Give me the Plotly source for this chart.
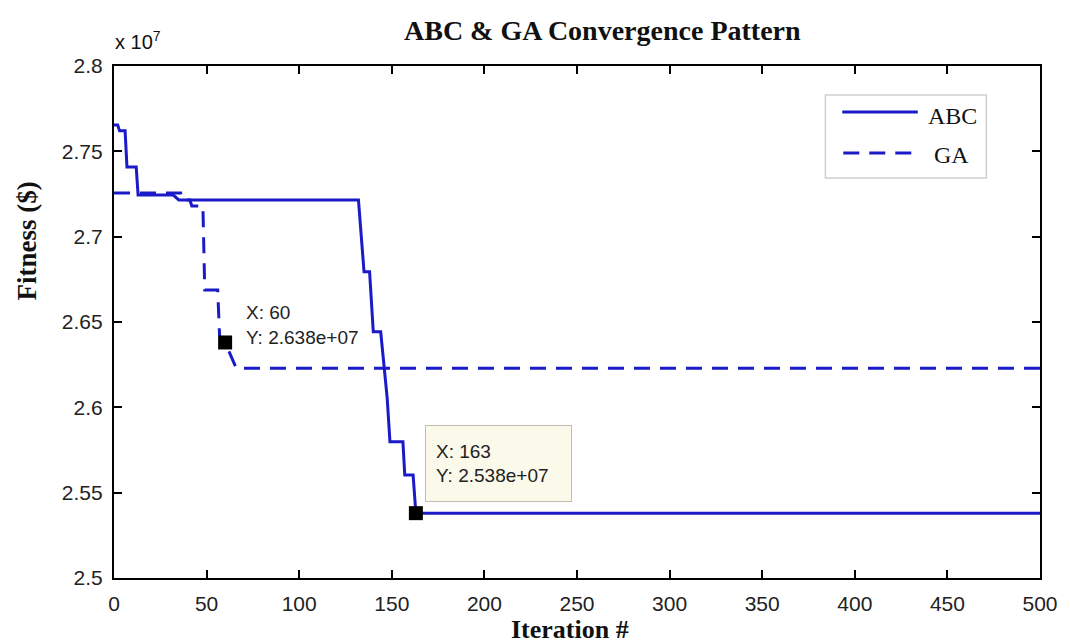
import plotly.graph_objects as go

# Best fitness per iteration (in $), step-wise convergence traces
abc_iter = [0, 2, 3, 6, 7, 12, 13, 32, 35, 132, 135, 138, 140, 144, 147.5, 149,
            156, 157, 161.5, 162.5, 163, 500]
abc_fit = [2.7655e7, 2.7655e7, 2.7620e7, 2.7620e7, 2.7408e7, 2.7408e7, 2.7244e7,
           2.7244e7, 2.7215e7, 2.7215e7, 2.6795e7, 2.6795e7, 2.6443e7, 2.6443e7,
           2.6055e7, 2.5799e7, 2.5799e7, 2.5604e7, 2.5604e7, 2.5468e7, 2.538e7,
           2.538e7]

ga_iter = [0, 36, 37, 41, 42, 48, 49, 56, 57, 60, 66, 500]
ga_fit = [2.7256e7, 2.7256e7, 2.7215e7, 2.7215e7, 2.7180e7, 2.7180e7, 2.6687e7,
          2.6687e7, 2.6420e7, 2.638e7, 2.6229e7, 2.6229e7]

# Data-tip points
tip_x = [60, 163]
tip_y = [2.638e7, 2.538e7]

x_ticks = list(range(0, 501, 50))
y_tickvals = [2.5e7, 2.55e7, 2.6e7, 2.65e7, 2.7e7, 2.75e7, 2.8e7]
y_ticktext = ["2.5", "2.55", "2.6", "2.65", "2.7", "2.75", "2.8"]

BLUE = "#1a1ac8"
DASH = "16px,10px"
SANS = "Liberation Sans, Arial, sans-serif"
SERIF = "Liberation Serif, Times New Roman, serif"

W, H = 1070, 644
L, R, T, B = 114, 24, 66, 66
PW, PH = W - L - R, H - T - B


def px(xp):
    return (xp - L) / PW


def py(yp):
    return (H - B - yp) / PH


fig = go.Figure()
fig.add_trace(go.Scatter(x=abc_iter, y=abc_fit, mode="lines", name="ABC",
                         line=dict(color=BLUE, width=3), showlegend=False))
fig.add_trace(go.Scatter(x=ga_iter, y=ga_fit, mode="lines", name="GA",
                         line=dict(color=BLUE, width=3, dash=DASH), showlegend=False))
fig.add_trace(go.Scatter(x=tip_x, y=tip_y, mode="markers", showlegend=False,
                         marker=dict(symbol="square", size=14, color="black")))

axis_common = dict(showline=True, linecolor="black", linewidth=2.2, mirror="ticks",
                   ticks="inside", ticklen=8, tickwidth=1.5, tickcolor="black",
                   showgrid=False, zeroline=False,
                   tickfont=dict(family=SANS, size=21, color="#222"))

fig.update_xaxes(range=[0, 500], tickvals=x_ticks, ticklabelstandoff=6, **axis_common)
fig.update_yaxes(range=[2.5e7, 2.8e7], tickvals=y_tickvals, ticktext=y_ticktext,
                 ticklabelstandoff=5, **axis_common)


def paper_text(text, xp, yp, size, family, xanchor="center", angle=0):
    return dict(text=text, x=px(xp), y=py(yp), xref="paper", yref="paper",
                xanchor=xanchor, yanchor="middle", showarrow=False, textangle=angle,
                font=dict(family=family, size=size, color="#111"))


annotations = [
    paper_text("<b>ABC &amp; GA Convergence Pattern</b>", 606, 30, 28, SERIF),
    paper_text("<b>Fitness ($)</b>", 26, 241, 27, SERIF, angle=-90),
    paper_text("<b>Iteration #</b>", 573, 629, 26, SERIF),
    paper_text("x 10<sup>7</sup>", 113, 40, 20, SANS, xanchor="left"),
    # legend labels
    paper_text("ABC", 931, 116, 24, SERIF, xanchor="left"),
    paper_text("GA", 937, 155, 24, SERIF, xanchor="left"),
    # data tips
    dict(text="X: %d<br>Y: %.3e" % (tip_x[0], tip_y[0]), x=tip_x[0], y=tip_y[0],
         xref="x", yref="y", xanchor="left", yanchor="middle", align="left",
         xshift=19, yshift=17, showarrow=False,
         font=dict(family=SANS, size=19, color="#222")),
    dict(text="X: %d<br>Y: %.3e" % (tip_x[1], tip_y[1]), x=tip_x[1], y=tip_y[1],
         xref="x", yref="y", xanchor="left", yanchor="bottom", align="left",
         xshift=9, yshift=11, showarrow=False, width=125, height=55, borderpad=10,
         bgcolor="#fbf9ea", bordercolor="#bdbdb0", borderwidth=1,
         font=dict(family=SANS, size=19, color="#222")),
]

shapes = [
    # legend frame and line samples
    dict(type="rect", xref="paper", yref="paper", x0=px(830), x1=px(992),
         y0=py(178), y1=py(95), line=dict(color="#cfcfcf", width=1.5),
         fillcolor="white", layer="above"),
    dict(type="line", xref="paper", yref="paper", x0=px(847), x1=px(923),
         y0=py(112), y1=py(112), line=dict(color=BLUE, width=3)),
    dict(type="line", xref="paper", yref="paper", x0=px(848), x1=px(917),
         y0=py(153), y1=py(153), line=dict(color=BLUE, width=3, dash=DASH)),
]

fig.update_layout(width=W, height=H, autosize=False,
                  margin=dict(l=L, r=R, t=T, b=B),
                  plot_bgcolor="white", paper_bgcolor="white",
                  annotations=annotations, shapes=shapes)

fig.write_html("out.html")
